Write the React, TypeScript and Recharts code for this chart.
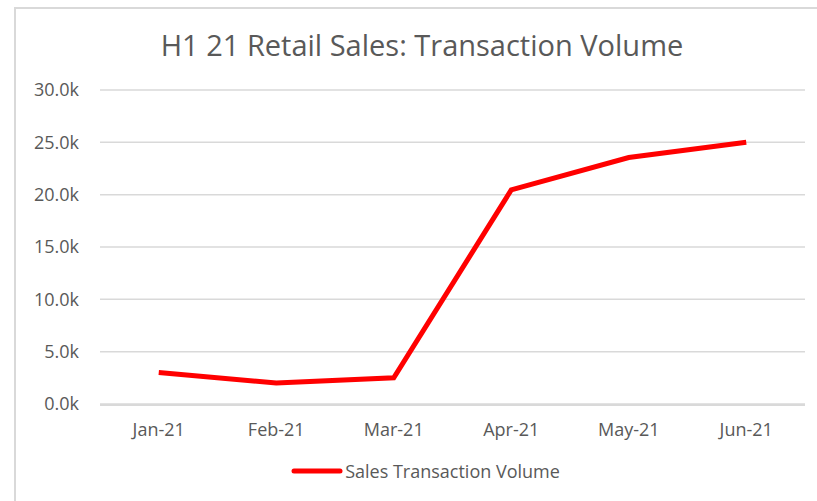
import { LineChart, Line, XAxis, YAxis, CartesianGrid, Legend } from 'recharts';

const months = ['Jan-21', 'Feb-21', 'Mar-21', 'Apr-21', 'May-21', 'Jun-21'];
const transactionVolume = [3000, 2000, 2500, 20450, 23550, 25000];
const yTicks = [0, 5000, 10000, 15000, 20000, 25000, 30000];
const edgeTicks = [0, 1, 2, 3, 4, 5, 6];

const data = months.map((month, i) => ({ month, volume: transactionVolume[i] }));

const FONT = '"Open Sans", "Noto Sans", sans-serif';
const TEXT = '#595959';
const GRID = '#d9d9d9';

const LegendContent = () => (
  <div style={{ display: 'flex', justifyContent: 'center', alignItems: 'center', fontFamily: FONT, fontSize: 18, color: TEXT }}>
    <svg width={52} height={10} style={{ marginRight: 2 }}>
      <line x1={3} y1={5} x2={49} y2={5} stroke="#ff0000" strokeWidth={5} strokeLinecap="round" />
    </svg>
    <span>Sales Transaction Volume</span>
  </div>
);

export default function App() {
  return (
    <div style={{ position: 'absolute', left: 0, top: 0, width: 817, height: 501, background: '#fff', overflow: 'hidden' }}>
      <div
        style={{
          position: 'absolute',
          left: 14,
          top: 7,
          width: 900,
          height: 600,
          borderLeft: `2px solid ${GRID}`,
          borderTop: `2px solid ${GRID}`,
        }}
      />
      <div
        style={{
          position: 'absolute',
          left: 0,
          width: 844,
          top: 25,
          textAlign: 'center',
          fontFamily: FONT,
          fontSize: 29,
          color: TEXT,
        }}
      >
        H1 21 Retail Sales: Transaction Volume
      </div>
      <div style={{ position: 'absolute', left: 0, top: 0 }}>
        <LineChart width={817} height={501} data={data} margin={{ top: 90, right: 12, bottom: 66, left: 0 }}>
          <CartesianGrid horizontal vertical={false} stroke={GRID} strokeWidth={1.5} />
          {/* category labels sit on a 1px axis, the boundary tick marks come from the numeric axis below it */}
          <XAxis
            dataKey="month"
            padding={{ left: 58.75, right: 58.75 }}
            axisLine={false}
            tickLine={false}
            height={1}
            tickMargin={13}
            tick={{ fill: TEXT, fontSize: 18, fontFamily: FONT }}
          />
          <XAxis
            xAxisId="edges"
            type="number"
            domain={[0, 6]}
            ticks={edgeTicks}
            tick={false}
            tickSize={5}
            height={30}
            axisLine={{ stroke: GRID, strokeWidth: 2 }}
            tickLine={{ stroke: GRID, strokeWidth: 2 }}
          />
          <YAxis
            width={100}
            domain={[0, 30000]}
            ticks={yTicks}
            axisLine={false}
            tickLine={false}
            tickMargin={15}
            tickFormatter={(v: number) => `${(v / 1000).toFixed(1)}k`}
            tick={{ fill: TEXT, fontSize: 18, fontFamily: FONT }}
          />
          <Legend
            verticalAlign="middle"
            layout="horizontal"
            content={<LegendContent />}
            wrapperStyle={{ position: 'absolute', top: 459, left: 0, width: 851 }}
          />
          <Line
            type="linear"
            dataKey="volume"
            name="Sales Transaction Volume"
            stroke="#ff0000"
            strokeWidth={5}
            dot={false}
            isAnimationActive={false}
          />
        </LineChart>
      </div>
    </div>
  );
}
